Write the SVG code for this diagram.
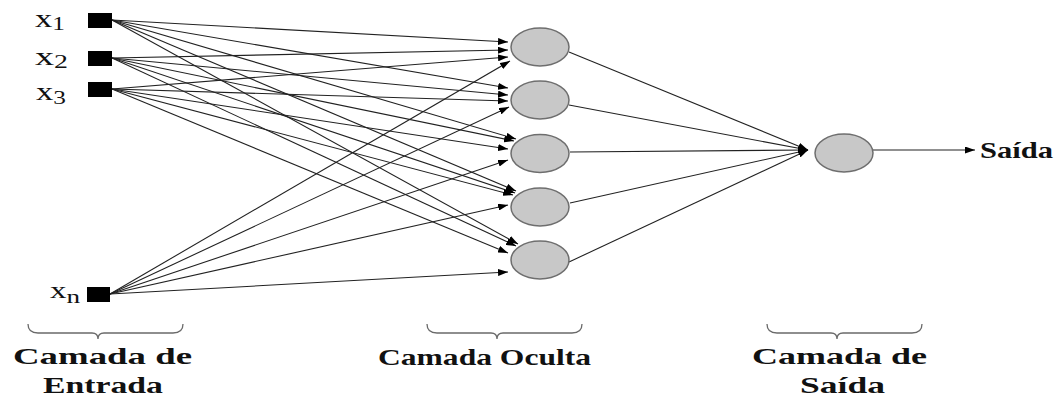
<svg xmlns="http://www.w3.org/2000/svg" width="1060" height="396" viewBox="0 0 1060 396">
  <style>
    .lbl { font-family: "Liberation Serif", "Times New Roman", serif; fill: #111; }
    .cap { font-family: "Liberation Serif", "Times New Roman", serif; font-weight: bold; font-size: 23px; fill: #111; }
    .inp { fill: #000; }
    .neuron { fill: #c8c8c8; stroke: #6e6e6e; stroke-width: 1.5; }
    .edge { stroke: #222; stroke-width: 1.1; fill: none; marker-end: url(#arr); }
    .brace { fill: none; stroke: #6a6a6a; stroke-width: 1.3; }
  </style>
  <defs>
    <marker id="arr" viewBox="0 0 10 7" refX="10" refY="3.5" markerWidth="10" markerHeight="7" markerUnits="userSpaceOnUse" orient="auto">
      <path d="M0,0 L10,3.5 L0,7 z" fill="#000"/>
    </marker>
  </defs>
  <rect width="1060" height="396" fill="#fff"/>

  <g id="connectors">
    <!-- x1 -->
    <line class="edge" x1="112" y1="20" x2="508" y2="42"/>
    <line class="edge" x1="112" y1="20" x2="508" y2="88"/>
    <line class="edge" x1="112" y1="20" x2="516" y2="139"/>
    <line class="edge" x1="112" y1="20" x2="516" y2="191"/>
    <line class="edge" x1="112" y1="20" x2="518" y2="244"/>
    <!-- x2 -->
    <line class="edge" x1="112" y1="58" x2="508" y2="50"/>
    <line class="edge" x1="112" y1="58" x2="508" y2="95"/>
    <line class="edge" x1="112" y1="58" x2="514" y2="141"/>
    <line class="edge" x1="112" y1="58" x2="515" y2="193"/>
    <line class="edge" x1="112" y1="58" x2="516" y2="246"/>
    <!-- x3 -->
    <line class="edge" x1="112" y1="89" x2="508" y2="57"/>
    <line class="edge" x1="112" y1="89" x2="508" y2="101"/>
    <line class="edge" x1="112" y1="89" x2="508" y2="149"/>
    <line class="edge" x1="112" y1="89" x2="513" y2="195"/>
    <line class="edge" x1="112" y1="89" x2="508" y2="253"/>
    <!-- xn -->
    <line class="edge" x1="110" y1="294" x2="510" y2="61"/>
    <line class="edge" x1="110" y1="294" x2="509" y2="107"/>
    <line class="edge" x1="110" y1="294" x2="508" y2="160"/>
    <line class="edge" x1="110" y1="294" x2="508" y2="205"/>
    <line class="edge" x1="110" y1="294" x2="508" y2="272"/>
    <!-- hidden to output -->
    <line class="edge" x1="569" y1="52" x2="808" y2="150"/>
    <line class="edge" x1="569" y1="105" x2="808" y2="150"/>
    <line class="edge" x1="570" y1="152" x2="808" y2="150"/>
    <line class="edge" x1="570" y1="203" x2="808" y2="150"/>
    <line class="edge" x1="569" y1="262" x2="808" y2="150"/>
    <!-- output -->
    <line class="edge" x1="873" y1="150" x2="975" y2="150"/>
  </g>

  <g id="in-x1">
    <rect class="inp" x="88" y="13" width="24" height="15"/>
    <text class="lbl" x="35" y="27" font-size="26" textLength="30" lengthAdjust="spacingAndGlyphs">x<tspan font-size="19" dy="3">1</tspan></text>
  </g>
  <g id="in-x2">
    <rect class="inp" x="88" y="51" width="24" height="15"/>
    <text class="lbl" x="35" y="65" font-size="26" textLength="33" lengthAdjust="spacingAndGlyphs">x<tspan font-size="19" dy="3">2</tspan></text>
  </g>
  <g id="in-x3">
    <rect class="inp" x="88" y="82" width="24" height="15"/>
    <text class="lbl" x="36" y="100" font-size="26" textLength="30" lengthAdjust="spacingAndGlyphs">x<tspan font-size="19" dy="4">3</tspan></text>
  </g>
  <g id="in-xn">
    <rect class="inp" x="87" y="287" width="23" height="15"/>
    <text class="lbl" x="50" y="298" font-size="23" textLength="30" lengthAdjust="spacingAndGlyphs">x<tspan font-size="19" dy="5">n</tspan></text>
  </g>

  <g id="hidden-1"><ellipse class="neuron" cx="540" cy="47" rx="29" ry="19"/></g>
  <g id="hidden-2"><ellipse class="neuron" cx="540" cy="100" rx="29" ry="19"/></g>
  <g id="hidden-3"><ellipse class="neuron" cx="540" cy="153.5" rx="29" ry="19"/></g>
  <g id="hidden-4"><ellipse class="neuron" cx="540" cy="207" rx="29" ry="19"/></g>
  <g id="hidden-5"><ellipse class="neuron" cx="540" cy="260" rx="29" ry="19"/></g>

  <g id="output">
    <ellipse class="neuron" cx="844" cy="153" rx="29" ry="19"/>
  </g>
  <g id="label-saida">
    <text class="cap" x="980" y="158" font-size="22" textLength="73" lengthAdjust="spacingAndGlyphs">Saída</text>
  </g>

  <g id="layer-input">
    <path class="brace" d="M28,324 Q28,333 38,333 L92,333 Q98,333 98,339 Q98,333 104,333 L173,333 Q183,333 183,324"/>
    <text class="cap" x="13" y="364" textLength="179" lengthAdjust="spacingAndGlyphs">Camada de</text>
    <text class="cap" x="43" y="393" textLength="120" lengthAdjust="spacingAndGlyphs">Entrada</text>
  </g>
  <g id="layer-hidden">
    <path class="brace" d="M427,324 Q427,333 437,333 L491,333 Q497,333 497,339 Q497,333 503,333 L572,333 Q582,333 582,324"/>
    <text class="cap" x="378" y="365" textLength="213" lengthAdjust="spacingAndGlyphs">Camada Oculta</text>
  </g>
  <g id="layer-output">
    <path class="brace" d="M767,324 Q767,333 777,333 L831,333 Q837,333 837,339 Q837,333 843,333 L912,333 Q922,333 922,324"/>
    <text class="cap" x="752" y="364" textLength="175" lengthAdjust="spacingAndGlyphs">Camada de</text>
    <text class="cap" x="800" y="393" textLength="85" lengthAdjust="spacingAndGlyphs">Saída</text>
  </g>
</svg>
